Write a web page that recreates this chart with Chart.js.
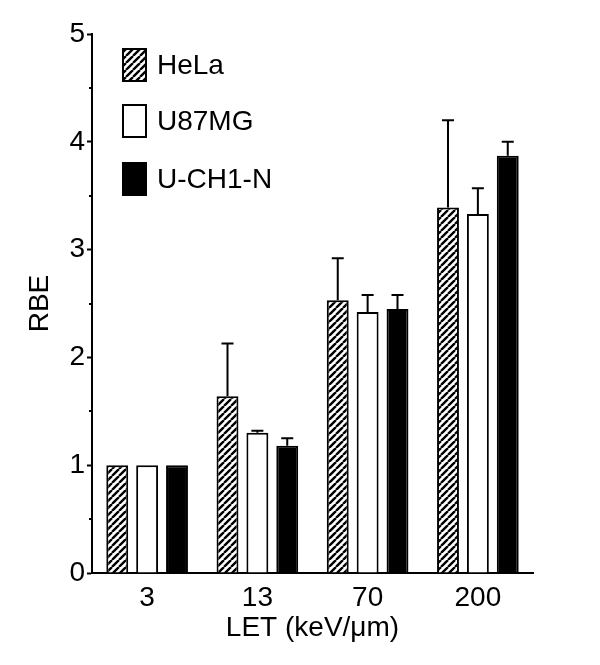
<!DOCTYPE html>
<html>
<head>
<meta charset="utf-8">
<script src="https://cdn.jsdelivr.net/npm/chart.js@4.4.0/dist/chart.umd.min.js"></script>
<style>
  html, body { margin: 0; padding: 0; background: #fff; }
  #wrap { width: 600px; height: 665px; }
</style>
</head>
<body>
<div id="wrap"><canvas id="rbeChart" width="600" height="665"></canvas></div>
<script>
// Datos del gráfico
const letLabels = ["3", "13", "70", "200"];
const cellLines = ["HeLa", "U87MG", "U-CH1-N"];
const helaRBE = [1.0, 1.64, 2.53, 3.39];
const u87RBE = [1.0, 1.30, 2.42, 3.33];
const uch1RBE = [1.0, 1.18, 2.45, 3.87];
// extremo superior de la barra de error
const helaErr = [1.0, 2.13, 2.92, 4.20];
const u87Err = [1.0, 1.32, 2.58, 3.57];
const uch1Err = [1.0, 1.25, 2.58, 4.00];

const FONT = "Arial, 'Liberation Sans', sans-serif";

// Patrón rayado para HeLa
function hatchPattern() {
  const c = document.createElement("canvas");
  c.width = 7; c.height = 7;
  const g = c.getContext("2d");
  g.fillStyle = "#fff";
  g.fillRect(0, 0, 7, 7);
  g.strokeStyle = "#000";
  g.lineWidth = 2.4;
  g.beginPath();
  for (let k = -1; k <= 1; k++) {
    g.moveTo(k * 7, 7);
    g.lineTo(k * 7 + 7, 0);
  }
  g.stroke();
  return g.createPattern(c, "repeat");
}

const ctx = document.getElementById("rbeChart").getContext("2d");
const hatch = hatchPattern();
const fills = [hatch, "#ffffff", "#000000"];
const errs = [helaErr, u87Err, uch1Err];

// Barras de error (solo hacia arriba)
const errorBars = {
  id: "errorBars",
  afterDatasetsDraw(chart) {
    const c = chart.ctx;
    const y = chart.scales.y;
    c.save();
    c.strokeStyle = "#000";
    c.lineWidth = 2;
    chart.data.datasets.forEach((ds, i) => {
      const meta = chart.getDatasetMeta(i);
      meta.data.forEach((bar, j) => {
        const top = errs[i][j];
        if (top <= ds.data[j] + 0.005) return;
        const yt = y.getPixelForValue(top);
        c.beginPath();
        c.moveTo(bar.x, bar.y);
        c.lineTo(bar.x, yt);
        c.moveTo(bar.x - 6, yt);
        c.lineTo(bar.x + 6, yt);
        c.stroke();
      });
    });
    c.restore();
  }
};

// Marcas menores del eje Y (más cortas)
const minorTicks = {
  id: "minorTicks",
  afterDraw(chart) {
    const c = chart.ctx;
    const y = chart.scales.y;
    const x0 = chart.chartArea.left;
    c.save();
    c.strokeStyle = "#000";
    c.lineWidth = 2;
    for (let v = 0.5; v < 5; v += 1) {
      const py = Math.round(y.getPixelForValue(v));
      c.beginPath();
      c.moveTo(x0 - 3, py);
      c.lineTo(x0, py);
      c.stroke();
    }
    c.restore();
  }
};

// Leyenda dentro del área del gráfico
const insideLegend = {
  id: "insideLegend",
  afterDraw(chart) {
    const c = chart.ctx;
    const left = chart.chartArea.left + 31;
    const rows = [65, 121, 179];
    c.save();
    c.font = "28px " + FONT;
    c.textBaseline = "middle";
    cellLines.forEach((name, i) => {
      const cy = rows[i];
      c.fillStyle = fills[i];
      c.fillRect(left, cy - 16, 23, 32);
      c.strokeStyle = "#000";
      c.lineWidth = 2;
      c.strokeRect(left, cy - 16, 23, 32);
      c.fillStyle = "#000";
      c.fillText(name, left + 34, cy + 1);
    });
    c.restore();
  }
};

new Chart(ctx, {
  type: "bar",
  data: {
    labels: letLabels,
    datasets: [
      { label: cellLines[0], data: helaRBE, backgroundColor: hatch },
      { label: cellLines[1], data: u87RBE, backgroundColor: "#ffffff" },
      { label: cellLines[2], data: uch1RBE, backgroundColor: "#000000" }
    ].map(d => Object.assign(d, {
      borderColor: "#000",
      borderWidth: 2,
      categoryPercentage: 0.813,
      barPercentage: 0.733
    }))
  },
  options: {
    responsive: false,
    animation: false,
    layout: { padding: { top: 34, right: 67, left: 0, bottom: 0 } },
    plugins: {
      legend: { display: false },
      tooltip: { enabled: false }
    },
    scales: {
      x: {
        grid: { display: false },
        border: { display: true, color: "#000", width: 2 },
        ticks: { color: "#000", font: { family: FONT, size: 28 }, padding: 0 },
        title: {
          display: true,
          text: "LET (keV/\u03bcm)",
          color: "#000",
          font: { family: FONT, size: 28 },
          padding: { top: 0, bottom: 20 }
        },
        afterFit(scale) { scale.height = 92; }
      },
      y: {
        min: 0,
        max: 5,
        ticks: {
          stepSize: 1,
          color: "#000",
          font: { family: FONT, size: 28 },
          padding: 2
        },
        grid: {
          drawOnChartArea: false,
          drawTicks: true,
          tickLength: 5,
          tickColor: "#000",
          tickWidth: 2
        },
        border: { display: true, color: "#000", width: 2 },
        title: {
          display: true,
          text: "RBE",
          color: "#000",
          font: { family: FONT, size: 28 },
          padding: { top: 23, bottom: 0 }
        },
        afterFit(scale) { scale.width = 92; }
      }
    }
  },
  plugins: [errorBars, minorTicks, insideLegend]
});
</script>
</body>
</html>
